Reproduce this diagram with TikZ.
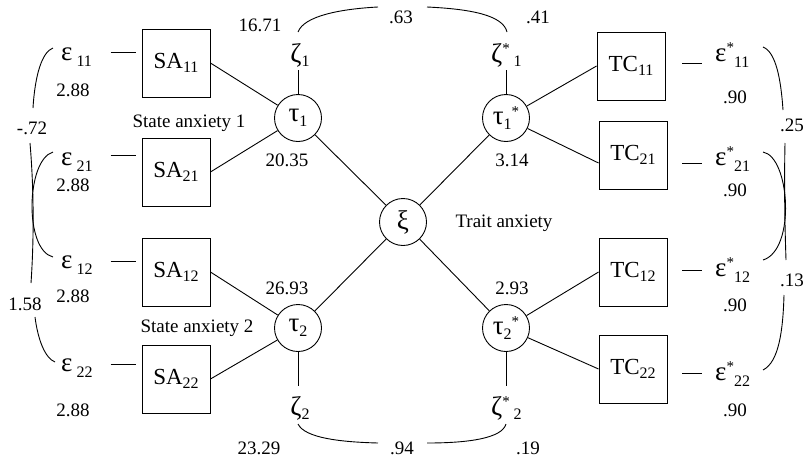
\documentclass[tikz,border=0pt]{standalone}
\usepackage{fontspec}
\setmainfont{Liberation Serif}
\newcommand\subx[2][-0.3em]{\raisebox{#1}{\fontsize{16}{16}\selectfont #2}}
\newcommand\supx[1]{\raisebox{0.38em}{\fontsize{15}{15}\selectfont #1}}
\newcommand\gk[1]{{\fontsize{27}{27}\selectfont #1}}
\begin{document}
\begin{tikzpicture}[x=1pt,y=-1pt,
  num/.style={inner sep=0pt, font=\fontsize{19}{19}\selectfont},
  gr/.style={inner sep=0pt, font=\fontsize{23}{23}\selectfont},
  obs/.style={draw, line width=0.9pt, minimum width=68pt, minimum height=68pt, inner sep=0pt, font=\fontsize{23}{23}\selectfont},
  lat/.style={draw, circle, line width=0.9pt, minimum size=47pt, inner sep=0pt, font=\fontsize{23}{23}\selectfont},
  conn/.style={line width=0.9pt},
  cov/.style={line width=0.9pt}]
\useasboundingbox (0,0) rectangle (805,458);

% observed boxes
\node[obs] (SA11) at (176,63)  {SA\subx[-0.15em]{11}};
\node[obs] (SA21) at (176,172) {SA\subx[-0.15em]{21}};
\node[obs] (SA12) at (176,272) {SA\subx[-0.15em]{12}};
\node[obs] (SA22) at (176,379) {SA\subx[-0.15em]{22}};
\node[obs] (TC11) at (631,66)  {TC\subx[-0.15em]{11}};
\node[obs] (TC21) at (633,155) {TC\subx[-0.15em]{21}};
\node[obs] (TC12) at (633,272) {TC\subx[-0.15em]{12}};
\node[obs] (TC22) at (633,369) {TC\subx[-0.15em]{22}};

% latent circles
\node[lat] (tau1)  at (298,118) {\gk{τ}\subx[-0.2em]{1}};
\node[lat] (tau1s) at (506,118) {\gk{τ}\subx[-0.2em]{1}\supx{*}};
\node[lat] (xi)    at (403,222) {\gk{ξ}};
\node[lat] (tau2)  at (298,328) {\gk{τ}\subx[-0.2em]{2}};
\node[lat] (tau2s) at (506,328) {\gk{τ}\subx[-0.2em]{2}\supx{*}};

% zeta labels
\node[gr, anchor=base] (z1)  at (300,62)  {\gk{ζ}\subx[-0.2em]{1}};
\node[gr, anchor=base west] (z1s) at (491,62) {\gk{ζ}\supx{*}\,\subx[-0.2em]{1}};
\node[gr, anchor=base] (z2)  at (300,415) {\gk{ζ}\subx[-0.2em]{2}};
\node[gr, anchor=base west] (z2s) at (491,415) {\gk{ζ}\supx{*}\,\subx[-0.2em]{2}};

% epsilon labels
\node[gr, anchor=base west] (e11) at (61,60)  {\gk{ε}\hspace{4pt}\subx{11}};
\node[gr, anchor=base west] (e21) at (61,165) {\gk{ε}\hspace{4pt}\subx{21}};
\node[gr, anchor=base west] (e12) at (61,268) {\gk{ε}\hspace{4pt}\subx{12}};
\node[gr, anchor=base west] (e22) at (61,371) {\gk{ε}\hspace{4pt}\subx{22}};
\node[gr, anchor=base west] (f11) at (715,61)  {\gk{ε}\supx{*}\subx{11}};
\node[gr, anchor=base west] (f21) at (715,165) {\gk{ε}\supx{*}\subx{21}};
\node[gr, anchor=base west] (f12) at (715,276) {\gk{ε}\supx{*}\subx{12}};
\node[gr, anchor=base west] (f22) at (715,380) {\gk{ε}\supx{*}\subx{22}};

% texts
\node[num] (st1) at (189,123) {State anxiety 1};
\node[num] (st2) at (197,328) {State anxiety 2};
\node[num] (tr)  at (504,223) {Trait anxiety};

% numbers
\node[num] (n1671) at (260,25)  {16.71};
\node[num] (n63)   at (401,17)  {.63};
\node[num] (n41)   at (538,17)  {.41};
\node[num] (n2035) at (287,160) {20.35};
\node[num] (n314)  at (512,160) {3.14};
\node[num] (n2693) at (287,288) {26.93};
\node[num] (n293)  at (512,288) {2.93};
\node[num] (n2329) at (259,448) {23.29};
\node[num] (n94)   at (402,448) {.94};
\node[num] (n19)   at (528,448) {.19};
\node[num] (m72)   at (32,128)  {-.72};
\node[num] (n158)  at (25,304)  {1.58};
\node[num] (a1) at (73,90)  {2.88};
\node[num] (a2) at (73,185) {2.88};
\node[num] (a3) at (73,296) {2.88};
\node[num] (a4) at (73,410) {2.88};
\node[num] (b1) at (735,97)  {.90};
\node[num] (b2) at (735,190) {.90};
\node[num] (b3) at (735,305) {.90};
\node[num] (b4) at (735,410) {.90};
\node[num] (n25) at (792,125) {.25};
\node[num] (n13) at (792,280) {.13};

% loadings
\draw[conn] (SA11.east) -- (tau1);
\draw[conn] (SA21.east) -- (tau1);
\draw[conn] (SA12.east) -- (tau2);
\draw[conn] (SA22.east) -- (tau2);
\draw[conn] (TC11.west) -- (tau1s);
\draw[conn] ([yshift=-8pt]TC21.west) -- (tau1s);
\draw[conn] (TC12.west) -- (tau2s);
\draw[conn] (TC22.west) -- (tau2s);
\draw[conn] (tau1) -- (xi);
\draw[conn] (tau1s) -- (xi);
\draw[conn] (tau2) -- (xi);
\draw[conn] (tau2s) -- (xi);

% disturbances
\draw[conn] (tau1) -- ([yshift=-3pt]tau1 |- z1.south);
\draw[conn] (tau1s) -- ([yshift=-3pt]tau1s |- z1s.south);
\draw[conn] (tau2) -- ([yshift=10pt]tau2 |- z2.north);
\draw[conn] (tau2s) -- ([yshift=10pt]tau2s |- z2s.north);

% error dashes
\draw[conn] ([shift={(-31,-11)}]SA11.west) -- ([shift={(-6,-11)}]SA11.west);
\draw[conn] ([shift={(-31,-17)}]SA21.west) -- ([shift={(-6,-17)}]SA21.west);
\draw[conn] ([shift={(-31,-11)}]SA12.west) -- ([shift={(-6,-11)}]SA12.west);
\draw[conn] ([shift={(-31,-15)}]SA22.west) -- ([shift={(-6,-15)}]SA22.west);
\draw[conn] ([shift={(17,-3)}]TC11.east) -- ([shift={(37,-3)}]TC11.east);
\draw[conn] ([shift={(15,8)}]TC21.east) -- ([shift={(35,8)}]TC21.east);
\draw[conn] ([shift={(15,-2)}]TC12.east) -- ([shift={(35,-2)}]TC12.east);
\draw[conn] ([shift={(15,4)}]TC22.east) -- ([shift={(35,4)}]TC22.east);

% covariance between disturbances
\coordinate (ta) at (298,32);  \coordinate (tb) at (378,7);
\coordinate (tc) at (427,7);   \coordinate (td) at (507,32);
\draw[cov] (ta) .. controls (304,16) and (340,9) .. (tb);
\draw[cov] (tc) .. controls (470,9) and (503,15) .. (td);
\coordinate (ba) at (298,424); \coordinate (bb) at (378,443);
\coordinate (bc) at (427,443); \coordinate (bd) at (506,424);
\draw[cov] (ba) .. controls (305,438) and (340,442) .. (bb);
\draw[cov] (bc) .. controls (470,443) and (502,438) .. (bd);

% covariance between errors, left
\draw[cov] (53,48) .. controls (42,52) and (35,75) .. (33,108);
\draw[cov] (30,143) .. controls (34,190) and (34,240) .. (31,283);
\draw[cov] (53,152) .. controls (26,160) and (24,250) .. (53,257);
\draw[cov] (35,317) .. controls (38,340) and (45,358) .. (55,362);

% covariance between errors, right
\draw[cov] (763,47) .. controls (776,52) and (781,80) .. (783,110);
\draw[cov] (785,143) .. controls (784,190) and (785,230) .. (786,260);
\draw[cov] (763,152) .. controls (790,157) and (796,250) .. (763,260);
\draw[cov] (784,295) .. controls (783,330) and (779,362) .. (763,370);
\end{tikzpicture}
\end{document}
